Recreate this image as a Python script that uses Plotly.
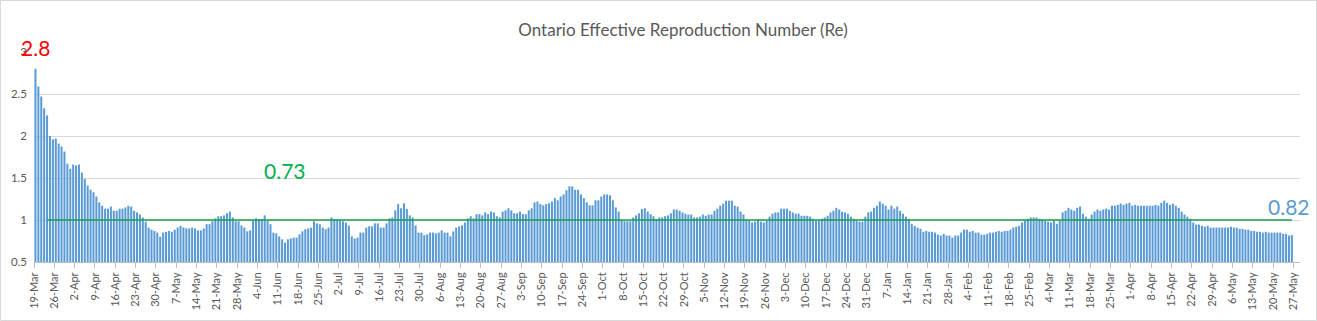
import plotly.graph_objects as go
import pandas as pd

# Daily effective reproduction number, 19-Mar-2020 .. 26-May-2021
re_values = [
    2.8, 2.59, 2.47, 2.33, 2.245, 2.0, 1.96, 1.97, 1.91, 1.875,
    1.815, 1.67, 1.61, 1.66, 1.65, 1.66, 1.565, 1.49, 1.41, 1.36,
    1.33, 1.28, 1.21, 1.17, 1.135, 1.135, 1.16, 1.11, 1.11, 1.135,
    1.135, 1.15, 1.17, 1.16, 1.11, 1.09, 1.065, 1.03, 0.98, 0.91,
    0.885, 0.87, 0.85, 0.80, 0.85, 0.86, 0.87, 0.86, 0.885, 0.91,
    0.93, 0.91, 0.90, 0.90,
    0.91, 0.90, 0.877, 0.877, 0.90, 0.95, 0.95, 0.985, 1.02, 1.045,
    1.045, 1.055, 1.08, 1.10, 1.03, 0.985, 0.985, 0.935, 0.91, 0.865,
    0.877, 0.995, 1.02, 1.01, 1.01, 1.055, 0.995, 0.95, 0.85, 0.84,
    0.805, 0.77, 0.73, 0.77, 0.78, 0.79, 0.79, 0.83, 0.865, 0.89,
    0.90, 0.91, 0.985, 0.96, 0.95, 0.91, 0.89, 0.91, 1.03, 1.01,
    1.01, 0.995, 0.985, 0.97,
    0.935, 0.805, 0.78, 0.79, 0.85, 0.85, 0.91, 0.925, 0.925, 0.96,
    0.96, 0.91, 0.91, 0.96, 1.02, 1.03, 1.115, 1.19, 1.14, 1.20,
    1.13, 1.055, 1.03, 0.935, 0.85, 0.85, 0.82, 0.83, 0.85, 0.85,
    0.84, 0.85, 0.877, 0.85, 0.85, 0.805, 0.865, 0.91, 0.925, 0.935,
    0.97, 1.02, 1.045, 1.02, 1.07, 1.07, 1.055, 1.09, 1.07, 1.10,
    1.09, 1.045, 1.03, 1.10,
    1.115, 1.14, 1.115, 1.08, 1.08, 1.10, 1.07, 1.07, 1.115, 1.14,
    1.21, 1.22, 1.19, 1.175, 1.19, 1.20, 1.22, 1.26, 1.235, 1.28,
    1.305, 1.355, 1.40, 1.40, 1.36, 1.36, 1.305, 1.26, 1.21, 1.175,
    1.175, 1.235, 1.235, 1.28, 1.305, 1.305, 1.295, 1.235, 1.15, 1.10,
    1.0, 0.985, 0.985, 0.985, 1.03, 1.055, 1.08, 1.13, 1.14, 1.10,
    1.07, 1.045, 1.01, 1.03, 1.03,
    1.045, 1.055, 1.08, 1.125, 1.125, 1.11, 1.09, 1.075, 1.065, 1.065,
    1.03, 1.03, 1.04, 1.065, 1.05, 1.065, 1.065, 1.11, 1.135, 1.17,
    1.195, 1.23, 1.23, 1.23, 1.17, 1.16, 1.10, 1.065, 1.005, 0.99,
    0.97, 0.98, 1.005, 0.98, 0.97, 0.99, 1.04, 1.075, 1.09, 1.09,
    1.135, 1.135, 1.135, 1.11, 1.09, 1.075, 1.075, 1.05, 1.05, 1.05,
    1.04, 1.015, 0.99, 0.99,
    1.015, 1.03, 1.05, 1.09, 1.11, 1.145, 1.125, 1.10, 1.09, 1.075,
    1.04, 1.015, 0.99, 0.98, 0.98, 1.04, 1.09, 1.10, 1.145, 1.17,
    1.22, 1.195, 1.17, 1.125, 1.17, 1.135, 1.16, 1.11, 1.075, 1.04,
    1.015, 0.955, 0.93, 0.91, 0.895, 0.86, 0.87, 0.86, 0.86, 0.85,
    0.825, 0.815, 0.835, 0.815, 0.815, 0.79, 0.815, 0.815, 0.85, 0.885,
    0.885, 0.86, 0.87, 0.85,
    0.85, 0.825, 0.825, 0.835, 0.85, 0.85, 0.86, 0.87, 0.86, 0.87,
    0.87, 0.885, 0.91, 0.92, 0.93, 0.97, 0.99, 1.015, 1.03, 1.03,
    1.03, 1.015, 1.005, 0.99, 0.98, 0.97, 0.99, 0.955, 0.99, 1.09,
    1.11, 1.145, 1.125, 1.11, 1.145, 1.16, 1.075, 1.04, 1.015, 1.065,
    1.10, 1.125, 1.11, 1.125, 1.135, 1.125, 1.17, 1.17, 1.18, 1.195,
    1.18, 1.195, 1.205, 1.17, 1.18,
    1.17, 1.17, 1.17, 1.17, 1.17, 1.17, 1.18, 1.17, 1.205, 1.23,
    1.205, 1.18, 1.195, 1.17, 1.145, 1.10, 1.065, 1.04, 1.015, 0.97,
    0.945, 0.945, 0.93, 0.92, 0.93, 0.91, 0.91, 0.91, 0.91, 0.91,
    0.91, 0.91, 0.92, 0.91, 0.91, 0.895, 0.895, 0.885, 0.885, 0.87,
    0.87, 0.86, 0.86, 0.85, 0.86, 0.85, 0.85, 0.85, 0.85, 0.85,
    0.835, 0.835, 0.815, 0.82,
]

start_date = "2020-03-19"
tick_labels = [
    "19-Mar", "26-Mar", "2-Apr", "9-Apr", "16-Apr", "23-Apr", "30-Apr", "7-May", "14-May",
    "21-May", "28-May", "4-Jun", "11-Jun", "18-Jun", "25-Jun", "2-Jul", "9-Jul", "16-Jul",
    "23-Jul", "30-Jul", "6-Aug", "13-Aug", "20-Aug", "27-Aug", "3-Sep", "10-Sep", "17-Sep",
    "24-Sep", "1-Oct", "8-Oct", "15-Oct", "22-Oct", "29-Oct", "5-Nov", "12-Nov", "19-Nov",
    "26-Nov", "3-Dec", "10-Dec", "17-Dec", "24-Dec", "31-Dec", "7-Jan", "14-Jan", "21-Jan",
    "28-Jan", "4-Feb", "11-Feb", "18-Feb", "25-Feb", "4-Mar", "11-Mar", "18-Mar", "25-Mar",
    "1-Apr", "8-Apr", "15-Apr", "22-Apr", "29-Apr", "6-May", "13-May", "20-May", "27-May",
]
threshold = 1.0
threshold_start_day = 4
label_max = "2.8"
label_min = "0.73"
label_last = "0.82"

W, H = 1317, 321
ML, MR, MT, MB = 34, 17, 52, 59
PW, PH = W - ML - MR, H - MT - MB
Y0, Y1 = 0.5, 3.0

days = pd.date_range(start_date, periods=len(re_values), freq="D")
bar_x = days + pd.Timedelta(hours=12)
tick_vals = pd.date_range(start_date, periods=len(tick_labels), freq="7D")
x_end = pd.Timestamp(start_date) + pd.Timedelta(days=436.3)

fig = go.Figure()
fig.add_trace(go.Bar(
    x=bar_x, y=re_values, marker=dict(color="#5B9BD5", line=dict(width=0)),
    showlegend=False, hoverinfo="x+y",
))
fig.add_trace(go.Scatter(
    x=bar_x[threshold_start_day:], y=[threshold] * (len(re_values) - threshold_start_day),
    mode="lines", line=dict(color="#17A04A", width=1.6), showlegend=False,
))

min_idx = re_values.index(min(re_values))
annos = [
    dict(x=bar_x[0], y=(3.05 - Y0) / (Y1 - Y0), yref="paper", text=label_max, color="#FF0000"),
    dict(x=bar_x[min_idx], y=1.59, yref="y", text=label_min, color="#00B050"),
    dict(x=bar_x[-2], y=1.155, yref="y", text=label_last, color="#5B9BD5"),
]
for a in annos:
    fig.add_annotation(x=a["x"], y=a["y"], xref="x", yref=a["yref"], text=a["text"],
                       showarrow=False, font=dict(family="Lato", size=21, color=a["color"]),
                       xanchor="center", yanchor="middle")

fig.update_layout(
    width=W, height=H,
    margin=dict(l=ML, r=MR, t=MT, b=MB),
    paper_bgcolor="white", plot_bgcolor="white",
    bargap=0.3,
    font=dict(family="Lato", color="#595959"),
    title=dict(text="Ontario Effective Reproduction Number (Re)", x=683 / W,
               xref="container", xanchor="center", y=1 - 30 / H, yref="container", yanchor="middle",
               font=dict(family="Lato", size=17, color="#595959")),
    shapes=[dict(type="rect", xref="paper", yref="paper",
                 x0=-(ML - 0.5) / PW, x1=1 + (MR - 0.5) / PW,
                 y0=-(MB - 0.5) / PH, y1=1 + (MT - 0.5) / PH,
                 line=dict(color="#D9D9D9", width=1), layer="below")],
)
fig.update_xaxes(
    type="date", range=[pd.Timestamp(start_date), x_end],
    tickmode="array", tickvals=tick_vals, ticktext=tick_labels, tickangle=-90,
    tickfont=dict(family="Lato", size=11, color="#595959"),
    ticks="outside", ticklen=5, tickcolor="#BFBFBF",
    showline=True, linecolor="#BFBFBF", linewidth=1,
    showgrid=False, zeroline=False,
)
fig.update_yaxes(
    range=[Y0, Y1], tickvals=[0.5, 1, 1.5, 2, 2.5, 3], ticktext=["0.5", "1", "1.5", "2", "2.5", "3"],
    tickfont=dict(family="Lato", size=11.5, color="#595959"),
    showgrid=True, gridcolor="#D9D9D9", gridwidth=1,
    showline=False, zeroline=False, ticks="", ticklabelstandoff=6,
)

fig.write_html("out.html")
